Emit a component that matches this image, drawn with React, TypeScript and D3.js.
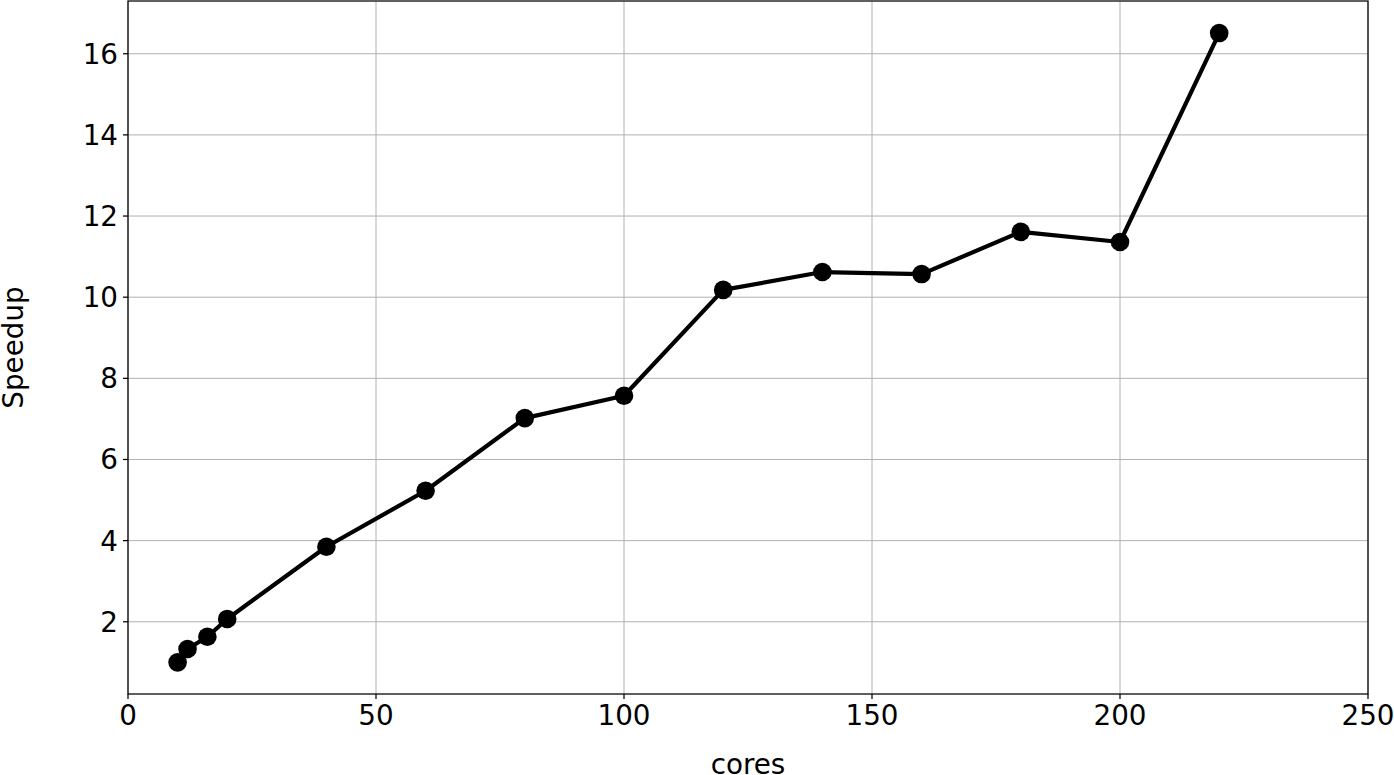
import React from "react";
import * as d3 from "d3";

const cores = [10, 12, 16, 20, 40, 60, 80, 100, 120, 140, 160, 180, 200, 220];
const speedup = [1.0, 1.33, 1.63, 2.07, 3.85, 5.23, 7.02, 7.57, 10.18, 10.62, 10.57, 11.61, 11.36, 16.51];
const xTicks = [0, 50, 100, 150, 200, 250];
const yTicks = [2, 4, 6, 8, 10, 12, 14, 16];

const W = 1394;
const H = 775;
const L = 128, R = 1368, T = 1, B = 694;
const FONT = "'DejaVu Sans', sans-serif";
const FS = 27.8;

export default function App() {
  const x = d3.scaleLinear().domain([0, 250]).range([L, R]);
  const y = d3.scaleLinear().domain([0.22, 17.3]).range([B, T]);
  const data = cores.map((c, i) => ({ c, s: speedup[i] }));
  const line = d3.line<{ c: number; s: number }>().x(d => x(d.c)).y(d => y(d.s));

  return (
    <svg width={W} height={H} style={{ position: "absolute", left: 0, top: 0, background: "#fff" }} fontFamily={FONT}>
      <rect x={0} y={0} width={W} height={H} fill="#fff" />
      {xTicks.map(t => (
        <line key={"gx" + t} x1={x(t)} x2={x(t)} y1={T} y2={B} stroke="#b0b0b0" strokeWidth={1} />
      ))}
      {yTicks.map(t => (
        <line key={"gy" + t} x1={L} x2={R} y1={y(t)} y2={y(t)} stroke="#b0b0b0" strokeWidth={1} />
      ))}
      <path d={line(data) || ""} fill="none" stroke="#000" strokeWidth={4.2} strokeLinejoin="round" />
      {data.map((d, i) => (
        <circle key={i} cx={x(d.c)} cy={y(d.s)} r={9.3} fill="#000" />
      ))}
      <rect x={L} y={T} width={R - L} height={B - T} fill="none" stroke="#000" strokeWidth={1.25} />
      {xTicks.map(t => (
        <g key={"tx" + t}>
          <line x1={x(t)} x2={x(t)} y1={B} y2={B + 5} stroke="#000" strokeWidth={1.25} />
          <text x={x(t)} y={B + 10} dy="0.76em" textAnchor="middle" fontSize={FS} fill="#000">{t}</text>
        </g>
      ))}
      {yTicks.map(t => (
        <g key={"ty" + t}>
          <line x1={L - 5} x2={L} y1={y(t)} y2={y(t)} stroke="#000" strokeWidth={1.25} />
          <text x={L - 10} y={y(t)} dy="0.36em" textAnchor="end" fontSize={FS} fill="#000">{t}</text>
        </g>
      ))}
      <text x={(L + R) / 2} y={774} textAnchor="middle" fontSize={FS} fill="#000">cores</text>
      <text transform={`translate(23, ${(T + B) / 2}) rotate(-90)`} textAnchor="middle" fontSize={FS} fill="#000">Speedup</text>
    </svg>
  );
}
